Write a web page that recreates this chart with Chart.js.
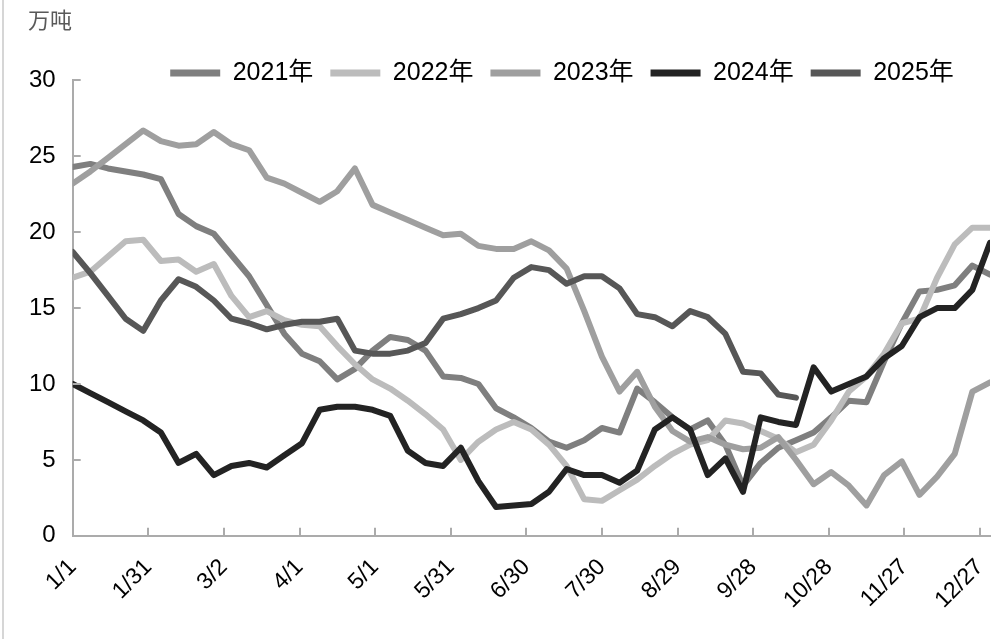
<!DOCTYPE html>
<html>
<head>
<meta charset="utf-8">
<script src="https://cdn.jsdelivr.net/npm/chart.js@4/dist/chart.umd.min.js"></script>
<style>
  html, body { margin: 0; padding: 0; background: #fff; }
  #wrap { position: relative; width: 1005px; height: 639px; }
  #wrap::before { content: ''; position: absolute; left: 2px; top: 0; width: 2px; height: 639px; background: #d6d6d6; }
</style>
</head>
<body>
<div id="wrap"><canvas id="chart"></canvas></div>
<script>
// x axis: day of year for each weekly point, tick labels every 30 days
const weekDays = [0, 7, 14, 21, 28, 35, 42, 49, 56, 63, 70, 77, 84, 91, 98, 105, 112, 119, 126, 133,
  140, 147, 154, 161, 168, 175, 182, 189, 196, 203, 210, 217, 224, 231, 238, 245, 252, 259, 266, 273,
  280, 287, 294, 301, 308, 315, 322, 329, 336, 343, 350, 357, 364];
const tickDays = [0, 30, 60, 90, 120, 150, 180, 210, 240, 270, 300, 330, 360];
const tickLabels = ['1/1', '1/31', '3/2', '4/1', '5/1', '5/31', '6/30', '7/30', '8/29', '9/28', '10/28', '11/27', '12/27'];

// 万吨
const y2021 = [24.3, 24.5, 24.2, 24.0, 23.8, 23.5, 21.2, 20.4, 19.9, 18.5, 17.1, 15.2, 13.3, 12.0, 11.5, 10.3, 11.0, 12.2, 13.1, 12.9,
  12.2, 10.5, 10.4, 10.0, 8.4, 7.8, 7.1, 6.2, 5.8, 6.3, 7.1, 6.8, 9.7, 8.8, 7.8, 7.0, 7.6, 6.0, 3.3, 4.8,
  5.8, 6.3, 6.8, 7.8, 8.9, 8.8, 11.5, 14.0, 16.1, 16.2, 16.5, 17.8, 17.2];
const y2022 = [17.0, 17.4, 18.4, 19.4, 19.5, 18.1, 18.2, 17.4, 17.9, 15.8, 14.4, 14.8, 14.2, 13.9, 13.8, 12.5, 11.3, 10.3, 9.7, 8.9,
  8.0, 7.0, 5.0, 6.2, 7.0, 7.5, 7.0, 6.0, 4.6, 2.4, 2.3, 3.0, 3.7, 4.6, 5.4, 6.0, 6.3, 7.6, 7.4, 6.9,
  6.4, 5.5, 6.0, 7.6, 9.5, 10.5, 12.0, 14.0, 14.3, 17.0, 19.2, 20.3, 20.3];
const y2023 = [23.2, 24.0, 24.9, 25.8, 26.7, 26.0, 25.7, 25.8, 26.6, 25.8, 25.4, 23.6, 23.2, 22.6, 22.0, 22.7, 24.2, 21.8, 21.3, 20.8,
  20.3, 19.8, 19.9, 19.1, 18.9, 18.9, 19.4, 18.8, 17.6, 14.8, 11.8, 9.5, 10.8, 8.5, 6.9, 6.2, 6.5, 6.0, 5.7, 5.8,
  6.5, 5.0, 3.4, 4.2, 3.3, 2.0, 4.0, 4.9, 2.7, 3.9, 5.4, 9.5, 10.1];
const y2024 = [10.0, 9.4, 8.8, 8.2, 7.6, 6.8, 4.8, 5.4, 4.0, 4.6, 4.8, 4.5, 5.3, 6.1, 8.3, 8.5, 8.5, 8.3, 7.9, 5.6,
  4.8, 4.6, 5.8, 3.6, 1.9, 2.0, 2.1, 2.9, 4.4, 4.0, 4.0, 3.5, 4.3, 7.0, 7.8, 7.0, 4.0, 5.1, 2.9, 7.8,
  7.5, 7.3, 11.1, 9.5, 10.0, 10.5, 11.7, 12.5, 14.4, 15.0, 15.0, 16.2, 19.3];
const y2025 = [18.7, 17.3, 15.8, 14.3, 13.5, 15.5, 16.9, 16.4, 15.5, 14.3, 14.0, 13.6, 13.9, 14.1, 14.1, 14.3, 12.2, 12.0, 12.0, 12.2,
  12.7, 14.3, 14.6, 15.0, 15.5, 17.0, 17.7, 17.5, 16.6, 17.1, 17.1, 16.3, 14.6, 14.4, 13.8, 14.8, 14.4, 13.3, 10.8, 10.7,
  9.3, 9.1];

const yTicks = [0, 5, 10, 15, 20, 25, 30];

const FONT = "'Liberation Sans', 'Noto Sans CJK SC', sans-serif";
const AXIS = '#ababab';

function toPoints(values) {
    return values.map((v, i) => ({ x: weekDays[i], y: v }));
}

function series(label, values, color, order) {
    return {
        label: label,
        data: toPoints(values),
        borderColor: color,
        backgroundColor: color,
        borderWidth: 6,
        borderCapStyle: 'round',
        borderJoinStyle: 'round',
        pointRadius: 0,
        tension: 0,
        order: order
    };
}

// short tick marks drawn inside the plot, like the original
const innerTicks = {
    id: 'innerTicks',
    afterDatasetsDraw(chart) {
        const { ctx, chartArea, scales } = chart;
        ctx.save();
        ctx.strokeStyle = AXIS;
        ctx.lineWidth = 2;
        ctx.beginPath();
        scales.y.ticks.forEach(t => {
            const py = Math.round(scales.y.getPixelForValue(t.value));
            ctx.moveTo(chartArea.left, py);
            ctx.lineTo(chartArea.left + 8, py);
        });
        scales.x.ticks.forEach(t => {
            const px = Math.round(scales.x.getPixelForValue(t.value));
            ctx.moveTo(px, chartArea.bottom);
            ctx.lineTo(px, chartArea.bottom - 8);
        });
        ctx.stroke();
        ctx.restore();
    }
};

// legend sits over the top of the plot, shifted right as in the original
const legendPlacement = {
    id: 'legendPlacement',
    beforeInit(chart) {
        const fit = chart.legend.fit;
        chart.legend.fit = function () {
            fit.call(this);
            this.height = 45;
        };
    },
    afterLayout(chart) {
        const lg = chart.legend;
        const pad = lg.options.labels.padding;
        const top = 73 - pad - 12.5;
        lg.bottom += top - lg.top;
        lg.top = top;
        lg.left += 61;
        lg.right += 61;
        chart.titleBlock.left += 16;
        chart.titleBlock.right += 16;
    }
};

Chart.defaults.font.family = FONT;
Chart.defaults.color = '#000';

new Chart(document.getElementById('chart'), {
    type: 'line',
    data: {
        datasets: [
            series('2021年', y2021, '#7f7f7f', 5),
            series('2022年', y2022, '#bcbcbc', 4),
            series('2023年', y2023, '#9f9f9f', 3),
            series('2024年', y2024, '#232323', 2),
            series('2025年', y2025, '#575757', 1)
        ]
    },
    options: {
        responsive: true,
        maintainAspectRatio: false,
        animation: false,
        layout: {
            padding: { left: 12, right: 15, top: 0, bottom: 7 }
        },
        plugins: {
            title: {
                display: true,
                text: '万吨',
                align: 'start',
                color: '#595959',
                font: { size: 22, weight: 'normal', family: FONT },
                padding: { top: 9, bottom: 0 }
            },
            legend: {
                position: 'top',
                align: 'center',
                labels: {
                    usePointStyle: true,
                    pointStyle: 'line',
                    pointStyleWidth: 50,
                    padding: 17,
                    color: '#000',
                    font: { size: 25 },
                    sort: (a, b) => a.datasetIndex - b.datasetIndex,
                    generateLabels: chart => Chart.defaults.plugins.legend.labels.generateLabels(chart)
                        .map(item => Object.assign(item, { lineWidth: 7 }))
                }
            },
            tooltip: { enabled: false }
        },
        scales: {
            x: {
                type: 'linear',
                min: 0,
                max: 364,
                afterBuildTicks: scale => {
                    scale.ticks = tickDays.map(v => ({ value: v }));
                },
                afterFit: scale => {
                    // rotated labels end at their tick, so no room needed on the right
                    scale.paddingRight = 0;
                },
                ticks: {
                    autoSkip: false,
                    minRotation: 45,
                    maxRotation: 45,
                    padding: 18,
                    font: { size: 23 },
                    callback: (value, index) => tickLabels[index]
                },
                grid: { display: true, drawOnChartArea: false, drawTicks: false },
                border: { color: AXIS, width: 2 }
            },
            y: {
                min: 0,
                max: 30,
                afterBuildTicks: scale => {
                    scale.ticks = yTicks.map(v => ({ value: v }));
                },
                ticks: {
                    padding: 17,
                    font: { size: 24 }
                },
                grid: { display: true, drawOnChartArea: false, drawTicks: false },
                border: { color: AXIS, width: 2 }
            }
        }
    },
    plugins: [innerTicks, legendPlacement]
});
</script>
</body>
</html>
